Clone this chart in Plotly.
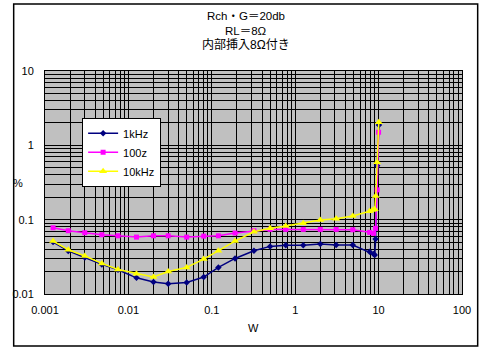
import plotly.graph_objects as go

# ---- data ----
x_1k = [0.00125, 0.0019, 0.003, 0.0048, 0.0075, 0.0125, 0.02, 0.03, 0.05, 0.08, 0.12, 0.19,
        0.32, 0.5, 0.77, 1.25, 2.0, 3.1, 4.9, 7.8, 8.7, 9.0, 9.2, 9.6, 10.1]
y_1k = [0.050, 0.038, 0.031, 0.025, 0.0212, 0.0165, 0.0145, 0.0137, 0.0143, 0.0169, 0.0228, 0.0301,
        0.0381, 0.0437, 0.0451, 0.0451, 0.047, 0.0455, 0.0455, 0.037, 0.0344, 0.0334, 0.0548, 0.53, 1.88]

x_100 = [0.00125, 0.0019, 0.003, 0.0048, 0.0075, 0.0125, 0.02, 0.03, 0.05, 0.08, 0.12, 0.19,
         0.32, 0.5, 0.77, 1.25, 2.0, 3.1, 4.9, 7.8, 8.7, 9.2, 9.6, 10.0]
y_100 = [0.0778, 0.0710, 0.0667, 0.0627, 0.0607, 0.0583, 0.0607, 0.0607, 0.0583, 0.0601, 0.0607, 0.0661,
         0.0710, 0.0740, 0.0740, 0.0740, 0.0740, 0.0740, 0.0731, 0.0675, 0.0654, 0.0764, 0.252, 1.50]

x_10k = [0.00125, 0.0019, 0.003, 0.0048, 0.0075, 0.0125, 0.02, 0.03, 0.05, 0.08, 0.12, 0.19,
         0.32, 0.5, 0.77, 1.25, 2.0, 3.1, 4.9, 7.8, 8.5, 9.0, 9.25, 9.6, 10.05]
y_10k = [0.0515, 0.0394, 0.0324, 0.0258, 0.0214, 0.0187, 0.0169, 0.0201, 0.0228, 0.0295, 0.0381, 0.0515,
         0.0687, 0.0764, 0.082, 0.0892, 0.0988, 0.103, 0.112, 0.130, 0.135, 0.138, 0.208, 0.59, 2.04]

x_ticks = [0.001, 0.01, 0.1, 1, 10, 100]
x_ticktext = ["0.001", "0.01", "0.1", "1", "10", "100"]
y_ticks = [0.01, 0.1, 1, 10]
y_ticktext = ["0.01", "0.1", "1", "10"]

title_lines = ["Rch・G＝20db", "RL＝8Ω", "内部挿入8Ω付き"]

FONT = "Liberation Sans, Noto Sans CJK JP, Arial, sans-serif"

fig = go.Figure()
fig.add_trace(go.Scatter(x=x_1k, y=y_1k, name="1kHz", mode="lines+markers", legendgroup="a",
                         line=dict(color="#000080", width=1.5),
                         marker=dict(symbol="diamond", size=5, color="#000080")))
fig.add_trace(go.Scatter(x=x_100, y=y_100, name="100z", mode="lines+markers", legendgroup="b",
                         line=dict(color="#FF00FF", width=1.5),
                         marker=dict(symbol="square", size=5, color="#FF00FF")))
fig.add_trace(go.Scatter(x=x_10k, y=y_10k, name="10kHz", mode="lines+markers", legendgroup="c",
                         line=dict(color="#FFFF00", width=1.5),
                         marker=dict(symbol="triangle-up", size=7, color="#FFFF00")))

axis_common = dict(type="log", showgrid=True, gridcolor="black", gridwidth=1,
                   ticks="", showline=True, linecolor="black", linewidth=1, mirror=True,
                   zeroline=False, tickfont=dict(family=FONT, size=11, color="black"),
                   minor=dict(showgrid=True, gridcolor="black", gridwidth=1, dtick="D1", ticks=""))

fig.update_xaxes(range=[-3, 2], tickvals=x_ticks, ticktext=x_ticktext, ticklabelstandoff=6, **axis_common)
fig.update_yaxes(range=[-2, 1], tickvals=y_ticks, ticktext=y_ticktext, ticklabelstandoff=8, **axis_common)

annotations = []
for txt, yp, fs in zip(title_lines, [1.2466, 1.179, 1.1166], [11.5, 11.5, 12]):
    annotations.append(dict(text=txt, x=0.481, y=yp, xref="paper", yref="paper", showarrow=False,
                            font=dict(family=FONT, size=fs, color="black"), xanchor="center", yanchor="middle"))
annotations.append(dict(text="W", x=0.5, y=-0.152, xref="paper", yref="paper", showarrow=False,
                        font=dict(family=FONT, size=11, color="black"), xanchor="center", yanchor="middle"))
annotations.append(dict(text="%", x=-0.0657, y=0.498, xref="paper", yref="paper", showarrow=False,
                        font=dict(family=FONT, size=11, color="black"), xanchor="center", yanchor="middle"))

fig.update_layout(
    width=483, height=351,
    margin=dict(l=36, r=21, t=71, b=57),
    paper_bgcolor="white", plot_bgcolor="#C0C0C0",
    showlegend=True,
    legend=dict(x=0.089, y=0.79, xanchor="left", yanchor="top", bgcolor="white",
                bordercolor="black", borderwidth=1, tracegroupgap=0,
                font=dict(family=FONT, size=11, color="black"), itemwidth=30),
    annotations=annotations,
    shapes=[dict(type="rect", xref="paper", yref="paper", x0=-0.0751, x1=1.0376, y0=-0.2332, y1=1.3004,
                 line=dict(color="black", width=1.5), layer="below")],
)

fig.write_html("out.html")
